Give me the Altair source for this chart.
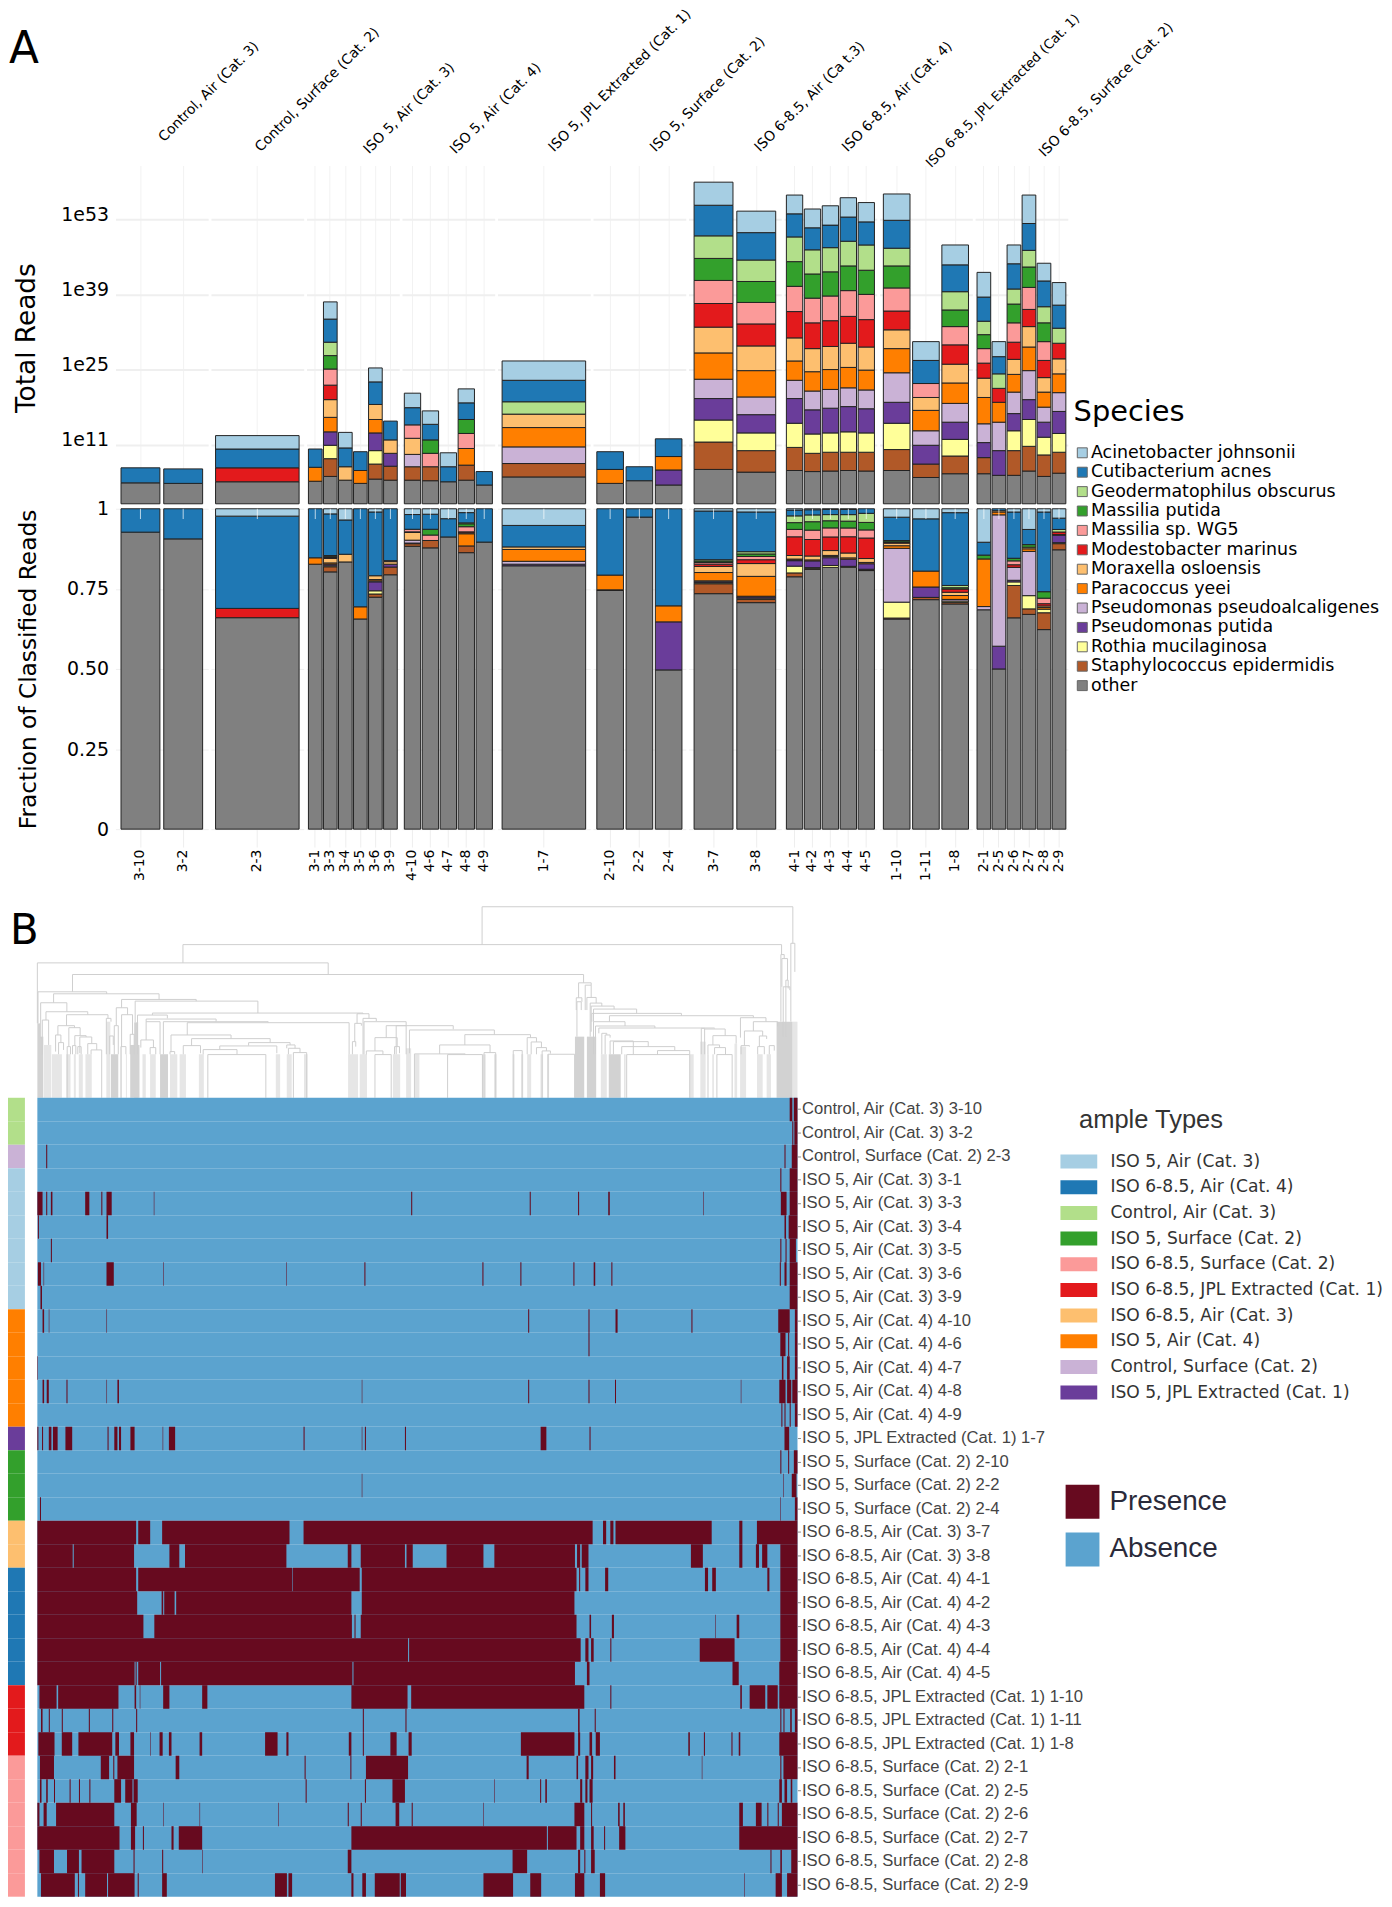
import altair as alt
import pandas as pd

species = ["Acinetobacter johnsonii", "Cutibacterium acnes", "Geodermatophilus obscurus", "Massilia putida",
           "Massilia sp. WG5", "Modestobacter marinus", "Moraxella osloensis", "Paracoccus yeei",
           "Pseudomonas pseudoalcaligenes", "Pseudomonas putida", "Rothia mucilaginosa",
           "Staphylococcus epidermidis", "other"]
species_colors = ["#A6CEE3", "#1F78B4", "#B2DF8A", "#33A02C", "#FB9A99", "#E31A1C", "#FDBF6F", "#FF7F00",
                  "#CAB2D6", "#6A3D9A", "#FFFF99", "#B15928", "#808080"]
codes = ["A", "C", "G", "MP", "MW", "MM", "MO", "PY", "PP", "PU", "R", "S", "O"]

groups = ["Control, Air (Cat. 3)", "Control, Surface (Cat. 2)", "ISO 5, Air (Cat. 3)", "ISO 5, Air (Cat. 4)",
          "ISO 5, JPL Extracted (Cat. 1)", "ISO 5, Surface (Cat. 2)", "ISO 6-8.5, Air (Cat. 3)",
          "ISO 6-8.5, Air (Cat. 4)", "ISO 6-8.5, JPL Extracted (Cat. 1)", "ISO 6-8.5, Surface (Cat. 2)"]
group_header = ["Control, Air (Cat. 3)", "Control, Surface (Cat. 2)", "ISO 5, Air (Cat. 3)", "ISO 5, Air (Cat. 4)",
                "ISO 5, JPL Extracted (Cat. 1)", "ISO 5, Surface (Cat. 2)", "ISO 6-8.5, Air (Ca t.3)",
                "ISO 6-8.5, Air (Cat. 4)", "ISO 6-8.5, JPL Extracted (Cat. 1)", "ISO 6-8.5, Surface (Cat. 2)"]
group_samples = [["3-10", "3-2"], ["2-3"], ["3-1", "3-3", "3-4", "3-5", "3-6", "3-9"],
                 ["4-10", "4-6", "4-7", "4-8", "4-9"], ["1-7"], ["2-10", "2-2", "2-4"], ["3-7", "3-8"],
                 ["4-1", "4-2", "4-3", "4-4", "4-5"], ["1-10", "1-11", "1-8"],
                 ["2-1", "2-5", "2-6", "2-7", "2-8", "2-9"]]

# Decades of reads per species on the stacked log axis
reads = {
    "3-10": dict(O=3.9, C=2.8), "3-2": dict(O=3.8, C=2.7),
    "2-3": dict(O=4.1, MM=2.6, C=3.5, A=2.5),
    "3-1": dict(O=4.2, PY=2.6, C=3.4),
    "3-3": dict(O=5.1, S=3.3, R=2.5, PU=2.5, PY=2.7, MO=3.3, MM=2.7, MW=3.0, MP=2.5, G=2.5, C=4.3, A=3.2),
    "3-4": dict(O=4.4, MO=2.5, C=3.5, A=2.9), "3-5": dict(O=3.8, PY=2.4, C=3.5),
    "3-6": dict(O=4.6, S=2.8, R=2.5, PU=3.3, PY=2.5, MO=2.8, C=4.2, A=2.6),
    "3-9": dict(O=4.4, S=2.6, PU=2.4, MO=2.5, C=3.5),
    "4-10": dict(O=4.4, S=2.5, PP=2.3, MO=3.0, MW=2.5, C=3.2, A=2.7),
    "4-6": dict(O=4.3, S=2.6, MW=2.5, MP=2.5, C=2.9, A=2.5),
    "4-7": dict(O=4.1, C=2.8, A=2.6),
    "4-8": dict(O=4.4, S=2.8, PY=3.1, MW=2.8, MP=2.6, C=3.1, A=2.6),
    "4-9": dict(O=3.5, C=2.5),
    "1-7": dict(O=5.0, S=2.5, PP=3.1, PY=3.6, MO=2.5, G=2.3, C=4.0, A=3.6),
    "2-10": dict(O=3.8, PY=2.6, C=3.3), "2-2": dict(O=4.3, C=2.6),
    "2-4": dict(O=3.5, PU=2.8, PY=2.5, C=3.3),
    "3-7": dict(O=6.4, S=5.1, R=4.1, PU=4.0, PP=3.6, PY=4.9, MO=4.8, MM=4.4, MW=4.3, MP=4.1, G=4.2, C=5.7, A=4.3),
    "3-8": dict(O=5.9, S=4.0, R=3.3, PU=3.4, PP=3.3, PY=4.9, MO=4.6, MM=4.1, MW=4.0, MP=3.9, G=4.0, C=5.1, A=4.0),
    "4-1": dict(O=6.2, S=4.3, R=4.5, PU=4.6, PP=3.4, PY=3.6, MO=4.3, MM=4.9, MW=4.7, MP=4.6, G=4.6, C=4.3, A=3.5),
    "4-2": dict(O=6.0, S=3.4, R=3.6, PU=4.5, PP=3.5, PY=3.6, MO=4.3, MM=4.8, MW=4.6, MP=4.5, G=4.5, C=4.1, A=3.5),
    "4-3": dict(O=6.1, S=3.5, R=3.6, PU=4.6, PP=3.5, PY=3.7, MO=4.3, MM=4.8, MW=4.6, MP=4.5, G=4.5, C=4.2, A=3.6),
    "4-4": dict(O=6.2, S=3.4, R=3.8, PU=4.7, PP=3.5, PY=3.8, MO=4.5, MM=5.0, MW=4.8, MP=4.6, G=4.6, C=4.5, A=3.6),
    "4-5": dict(O=6.1, S=3.5, R=3.6, PU=4.5, PP=3.5, PY=3.7, MO=4.3, MM=5.1, MW=4.7, MP=4.5, G=4.7, C=4.3, A=3.6),
    "1-10": dict(O=6.2, S=3.9, R=4.9, PU=3.9, PP=5.5, PY=4.5, MO=3.5, MM=3.5, MW=4.3, MP=4.1, G=3.3, C=5.2, A=4.9),
    "1-11": dict(O=4.9, S=2.5, PU=3.5, PP=2.7, PY=3.8, MO=2.4, MW=2.6, C=4.3, A=3.5),
    "1-8": dict(O=5.6, S=3.3, R=3.1, PU=3.2, PP=3.5, PY=3.8, MO=3.5, MM=3.6, MW=3.4, MP=3.1, G=3.4, C=5.0, A=3.7),
    "2-1": dict(O=5.6, S=3.0, PU=2.8, PP=3.5, PY=4.9, MO=3.6, MM=2.8, MW=2.7, MP=2.6, G=2.5, C=4.5, A=4.6),
    "2-5": dict(O=5.3, PU=4.6, PP=5.3, PY=3.7, MM=2.6, G=2.7, C=3.2, A=2.8),
    "2-6": dict(O=5.3, S=4.6, R=3.7, PU=3.2, PP=4.0, PY=3.3, MO=2.8, MM=3.2, MW=3.6, MP=3.5, G=2.8, C=4.7, A=3.5),
    "2-7": dict(O=6.1, S=4.6, R=5.0, PU=3.7, PP=5.4, PY=4.4, MO=3.8, MM=3.2, MW=4.1, MP=3.8, G=3.1, C=5.0, A=5.3),
    "2-8": dict(O=5.1, S=4.0, R=3.3, PU=2.8, PP=2.8, PY=2.8, MO=2.7, MM=3.2, MW=3.5, MP=3.5, G=3.0, C=4.8, A=3.3),
    "2-9": dict(O=5.7, S=3.9, R=3.5, PU=4.1, PP=3.5, PY=3.5, MO=2.8, MM=2.9, G=2.8, C=4.3, A=4.2),
}

# Fraction of classified reads
fractions = {
    "3-10": dict(O=.927, C=.073), "3-2": dict(O=.906, C=.094),
    "2-3": dict(O=.66, MM=.029, C=.288, A=.023),
    "3-1": dict(O=.827, PY=.02, C=.153),
    "3-3": dict(O=.803, S=.016, R=.003, PU=.005, PY=.004, MO=.014, MM=.003, MW=.002, MP=.002, G=.002, C=.13, A=.016),
    "3-4": dict(O=.834, MO=.024, C=.107, A=.035), "3-5": dict(O=.656, PY=.038, C=.306),
    "3-6": dict(O=.724, S=.01, R=.01, PU=.028, PP=.003, PY=.004, MO=.012, C=.199, A=.01),
    "3-9": dict(O=.794, S=.024, PU=.009, MW=.003, MO=.008, C=.162),
    "4-10": dict(O=.883, S=.008, PU=.002, PP=.009, MO=.024, MM=.002, MW=.008, C=.046, A=.018),
    "4-6": dict(O=.878, S=.023, MW=.017, MP=.018, C=.047, A=.017),
    "4-7": dict(O=.912, C=.057, A=.031),
    "4-8": dict(O=.863, S=.021, PY=.038, MO=.003, MM=.003, MW=.016, MP=.009, G=.003, C=.032, A=.012),
    "4-9": dict(O=.896, C=.104),
    "1-7": dict(O=.822, PU=.005, PP=.009, PY=.037, MO=.008, C=.067, A=.052),
    "2-10": dict(O=.745, S=.002, PY=.046, C=.207), "2-2": dict(O=.974, C=.026),
    "2-4": dict(O=.497, PU=.15, PY=.05, C=.303),
    "3-7": dict(O=.735, S=.031, R=.003, PU=.003, PP=.003, PY=.026, MO=.019, MM=.007, MW=.005, MP=.005, G=.004, C=.152, A=.007),
    "3-8": dict(O=.707, S=.01, R=.004, PU=.004, PP=.002, PY=.062, MO=.04, MM=.012, MW=.01, MP=.008, G=.007, C=.124, A=.01),
    "4-1": dict(O=.783, S=.012, R=.021, PU=.017, PP=.002, PY=.003, MO=.011, MM=.058, MW=.023, MP=.021, G=.021, C=.018, A=.004),
    "4-2": dict(O=.803, S=.002, R=.003, PU=.021, PY=.003, MO=.012, MM=.051, MW=.029, MP=.026, G=.021, C=.016, A=.003),
    "4-3": dict(O=.808, R=.006, PU=.024, PP=.004, PY=.003, MO=.015, MM=.042, MW=.028, MP=.022, G=.019, C=.016, A=.002),
    "4-4": dict(O=.805, R=.003, PU=.022, PY=.004, MO=.015, MM=.05, MW=.027, MP=.021, G=.02, C=.016, A=.002),
    "4-5": dict(O=.795, S=.002, R=.002, PU=.017, PY=.004, MO=.012, MM=.063, MW=.025, MP=.023, G=.028, C=.014),
    "1-10": dict(O=.648, S=.003, R=.049, PP=.166, PY=.008, MO=.008, MM=.002, MW=.002, MP=.004, C=.072, A=.026),
    "1-11": dict(O=.707, PU=.032, S=.007, PY=.049, C=.161, A=.031),
    "1-8": dict(O=.693, S=.005, R=.004, PP=.005, PY=.012, MO=.01, MM=.01, MP=.004, G=.007, C=.224, A=.012),
    "2-1": dict(O=.682, PP=.01, PY=.148, MP=.012, C=.04, A=.104),
    "2-5": dict(O=.5, PU=.071, PP=.41, PY=.009, MO=.004, C=.006),
    "2-6": dict(O=.653, S=.1, R=.011, PU=.005, PP=.04, MM=.008, MW=.012, MP=.008, C=.143, A=.01),
    "2-7": dict(O=.665, S=.017, R=.041, PP=.137, PY=.008, MO=.005, MP=.008, C=.047, A=.064),
    "2-8": dict(O=.616, S=.052, R=.011, PY=.005, MO=.005, MM=.007, MW=.017, MP=.02, C=.246, A=.01),
    "2-9": dict(O=.865, S=.019, R=.003, PU=.023, PP=.002, G=.008, MM=.008, C=.035, A=.029),
}

row_labels = ["Control, Air (Cat. 3) 3-10", "Control, Air (Cat. 3) 3-2", "Control, Surface (Cat. 2) 2-3",
              "ISO 5, Air (Cat. 3) 3-1", "ISO 5, Air (Cat. 3) 3-3", "ISO 5, Air (Cat. 3) 3-4", "ISO 5, Air (Cat. 3) 3-5",
              "ISO 5, Air (Cat. 3) 3-6", "ISO 5, Air (Cat. 3) 3-9", "ISO 5, Air (Cat. 4) 4-10", "ISO 5, Air (Cat. 4) 4-6",
              "ISO 5, Air (Cat. 4) 4-7", "ISO 5, Air (Cat. 4) 4-8", "ISO 5, Air (Cat. 4) 4-9",
              "ISO 5, JPL Extracted (Cat. 1) 1-7", "ISO 5, Surface (Cat. 2) 2-10", "ISO 5, Surface (Cat. 2) 2-2",
              "ISO 5, Surface (Cat. 2) 2-4", "ISO 6-8.5, Air (Cat. 3) 3-7", "ISO 6-8.5, Air (Cat. 3) 3-8",
              "ISO 6-8.5, Air (Cat. 4) 4-1", "ISO 6-8.5, Air (Cat. 4) 4-2", "ISO 6-8.5, Air (Cat. 4) 4-3",
              "ISO 6-8.5, Air (Cat. 4) 4-4", "ISO 6-8.5, Air (Cat. 4) 4-5", "ISO 6-8.5, JPL Extracted (Cat. 1) 1-10",
              "ISO 6-8.5, JPL Extracted (Cat. 1) 1-11", "ISO 6-8.5, JPL Extracted (Cat. 1) 1-8",
              "ISO 6-8.5, Surface (Cat. 2) 2-1", "ISO 6-8.5, Surface (Cat. 2) 2-5", "ISO 6-8.5, Surface (Cat. 2) 2-6",
              "ISO 6-8.5, Surface (Cat. 2) 2-7", "ISO 6-8.5, Surface (Cat. 2) 2-8", "ISO 6-8.5, Surface (Cat. 2) 2-9"]
row_types = [groups[0]] * 2 + [groups[1]] + [groups[2]] * 6 + [groups[3]] * 5 + [groups[4]] + [groups[5]] * 3 + \
            [groups[6]] * 2 + [groups[7]] * 5 + [groups[8]] * 3 + [groups[9]] * 6
type_order = ["ISO 5, Air (Cat. 3)", "ISO 6-8.5, Air (Cat. 4)", "Control, Air (Cat. 3)", "ISO 5, Surface (Cat. 2)",
              "ISO 6-8.5, Surface (Cat. 2)", "ISO 6-8.5, JPL Extracted (Cat. 1)", "ISO 6-8.5, Air (Cat. 3)",
              "ISO 5, Air (Cat. 4)", "Control, Surface (Cat. 2)", "ISO 5, JPL Extracted (Cat. 1)"]
type_colors = ["#A6CEE3", "#1F78B4", "#B2DF8A", "#33A02C", "#FB9A99", "#E31A1C", "#FDBF6F", "#FF7F00", "#CAB2D6", "#6A3D9A"]

# Presence runs per sample over the ordered taxa columns (0..1462)
presence = [
    [(1447, 1452), (1455, 1462)],
    [(1452, 1454), (1456, 1462)],
    [(17, 19), (1437, 1439), (1451, 1462)],
    [(1429, 1431), (1447, 1462)],
    [(0, 10), (17, 19), (26, 29), (92, 100), (123, 125), (133, 143), (224, 225), (719, 721), (947, 949), (1040, 1042), (1098, 1101), (1281, 1282), (1430, 1441), (1447, 1462)],
    [(1, 3), (133, 136), (1437, 1440), (1445, 1462)],
    [(26, 28), (1429, 1431), (1439, 1441), (1447, 1459)],
    [(1, 7), (12, 13), (133, 147), (242, 243), (479, 480), (629, 631), (856, 858), (929, 931), (1031, 1033), (1070, 1073), (1104, 1106), (1428, 1430), (1437, 1441), (1447, 1462)],
    [(6, 9), (1447, 1462)],
    [(10, 13), (22, 23), (133, 134), (944, 946), (1060, 1062), (1112, 1116), (1258, 1260), (1425, 1447), (1457, 1462)],
    [(1060, 1062), (1429, 1439), (1444, 1446), (1457, 1462)],
    [(0, 1), (1432, 1435), (1442, 1447), (1457, 1462)],
    [(10, 13), (18, 22), (56, 58), (133, 134), (154, 157), (624, 625), (944, 946), (1060, 1062), (1111, 1113), (1353, 1354), (1427, 1439), (1442, 1450), (1452, 1462)],
    [(1431, 1433), (1437, 1439), (1447, 1449), (1457, 1462)],
    [(0, 2), (9, 11), (22, 27), (30, 39), (54, 67), (135, 137), (148, 154), (157, 161), (179, 187), (241, 242), (253, 265), (512, 514), (624, 625), (630, 632), (707, 709), (968, 979), (1062, 1064), (1437, 1446)],
    [(1429, 1431), (1444, 1446), (1455, 1462)],
    [(624, 625), (1435, 1436), (1451, 1460)],
    [(5, 7), (1429, 1430), (1457, 1462)],
    [(0, 190), (194, 217), (240, 485), (512, 1068), (1088, 1094), (1102, 1108), (1112, 1297), (1350, 1356), (1384, 1462)],
    [(0, 68), (70, 186), (254, 273), (284, 479), (597, 604), (622, 707), (710, 722), (787, 858), (879, 1034), (1038, 1044), (1047, 1060), (1257, 1280), (1350, 1356), (1382, 1388), (1394, 1404), (1429, 1462)],
    [(0, 190), (194, 490), (491, 620), (624, 1037), (1042, 1044), (1054, 1060), (1092, 1098), (1284, 1290), (1298, 1305), (1404, 1408), (1429, 1462)],
    [(0, 192), (239, 242), (244, 264), (267, 604), (624, 1033), (1429, 1462)],
    [(0, 204), (225, 605), (610, 612), (622, 1037), (1062, 1065), (1105, 1109), (1304, 1305), (1345, 1350), (1429, 1462)],
    [(0, 713), (715, 1045), (1054, 1060), (1065, 1070), (1102, 1104), (1274, 1341), (1429, 1462)],
    [(0, 187), (189, 191), (194, 236), (238, 606), (608, 1034), (1057, 1062), (1337, 1349), (1427, 1462)],
    [(4, 37), (40, 156), (187, 190), (197, 198), (242, 254), (317, 327), (604, 712), (719, 1052), (1102, 1104), (1352, 1355), (1370, 1400), (1404, 1424), (1427, 1462)],
    [(7, 10), (22, 24), (47, 49), (99, 101), (144, 146), (190, 192), (626, 628), (708, 710), (1040, 1043), (1072, 1074), (1429, 1431), (1435, 1437), (1448, 1451), (1457, 1462)],
    [(2, 33), (47, 67), (79, 144), (150, 157), (179, 186), (217, 218), (235, 241), (253, 258), (312, 317), (438, 462), (479, 483), (599, 604), (626, 628), (679, 691), (714, 720), (930, 1033), (1040, 1044), (1062, 1067), (1074, 1082), (1252, 1255), (1282, 1284), (1335, 1337), (1349, 1352), (1427, 1462)],
    [(5, 32), (122, 138), (146, 148), (154, 186), (266, 273), (514, 516), (602, 604), (632, 713), (941, 945), (1037, 1040), (1054, 1060), (1065, 1069), (1109, 1112), (1278, 1279), (1429, 1431), (1435, 1462)],
    [(5, 8), (17, 20), (32, 34), (62, 64), (80, 82), (100, 102), (148, 161), (169, 183), (185, 193), (516, 518), (630, 632), (683, 707), (879, 880), (967, 969), (977, 980), (1044, 1048), (1054, 1058), (1062, 1068), (1427, 1432), (1437, 1442), (1449, 1452)],
    [(0, 4), (12, 18), (36, 148), (180, 191), (242, 243), (312, 313), (463, 464), (597, 599), (622, 624), (689, 696), (720, 722), (858, 859), (1033, 1052), (1065, 1067), (1117, 1120), (1127, 1130), (1350, 1357), (1382, 1393), (1404, 1406), (1424, 1426), (1432, 1462)],
    [(0, 158), (180, 188), (203, 205), (258, 262), (272, 317), (604, 980), (982, 1037), (1044, 1052), (1065, 1070), (1090, 1092), (1119, 1131), (1350, 1462)],
    [(4, 32), (57, 80), (85, 148), (185, 187), (240, 242), (317, 318), (597, 604), (914, 942), (1040, 1044), (1052, 1054), (1065, 1072), (1410, 1412), (1429, 1432), (1450, 1462)],
    [(7, 72), (78, 80), (92, 134), (136, 187), (193, 195), (240, 249), (457, 480), (483, 490), (604, 608), (625, 632), (649, 697), (699, 709), (858, 915), (948, 969), (1034, 1052), (1082, 1092), (1360, 1361), (1420, 1432), (1442, 1462)],
]

# Dendrogram merges: left, right, merge depth, left child depth, right child depth
links_main = [(1359, 2296, -96, 18, 14), (457, 2262, 18, 73, 48), (18, 895, 73, 255, 108), (124, 1665, 108, 160, 133)]
links_left = [
    (20, 227, 160, 255, 166), (67, 385, 166, 193, 183), (28, 107, 193, 300, 220), (44, 170, 220, 245, 229),
    (33, 52, 245, 348, 320), (106, 231, 229, 262, 240), (80, 130, 262, 290, 268), (73, 89, 290, 340, 313),
    (82, 97, 313, 348, 335), (113, 147, 268, 325, 292), (108, 118, 325, 479, 348), (131, 165, 292, 322, 296),
    (124, 134, 322, 348, 348), (146, 182, 296, 345, 316), (140, 150, 325, 348, 348), (170, 197, 316, 348, 335),
    (180, 212, 335, 348, 479), (226, 240, 240, 348, 250), (236, 247, 293, 348, 320), (272, 497, 183, 208, 188),
    (256, 290, 208, 262, 229), (250, 262, 262, 348, 348), (272, 305, 229, 325, 288), (270, 285, 325, 479, 348),
    (298, 310, 288, 348, 348), (313, 683, 188, 252, 224), (365, 1000, 224, 230, 226), (320, 410, 230, 348, 240),
    (346, 557, 242, 250, 250), (346, 388, 250, 305, 348), (330, 368, 305, 328, 328), (358, 375, 328, 348, 348),
    (398, 714, 250, 348, 253), (470, 958, 253, 290, 348), (421, 602, 290, 342, 301), (483, 720, 301, 322, 313),
    (458, 510, 322, 348, 345), (655, 780, 313, 322, 320), (568, 740, 323, 333, 345), (518, 620, 334, 348, 348),
    (532, 707, 349, 479, 479), (770, 795, 320, 330, 330), (775, 810, 330, 348, 343), (790, 830, 343, 479, 479),
    (968, 978, 310, 348, 325), (982, 1018, 226, 255, 240), (975, 995, 255, 310, 262), (1000, 1040, 240, 348, 248),
    (1003, 1130, 250, 348, 262), (1070, 1130, 262, 298, 348), (1036, 1103, 298, 338, 325), (1010, 1060, 338, 349, 349),
    (1036, 1085, 349, 479, 479), (1095, 1110, 325, 348, 345), (418, 432, 340, 348, 348),
]
links_right = [
    (495, 533, 133, 178, 140), (488, 505, 178, 215, 190), (490, 503, 190, 295, 215), (520, 548, 177, 215, 194),
    (515, 533, 140, 215, 177), (530, 565, 194, 295, 203), (533, 602, 203, 280, 212), (540, 670, 212, 250, 225),
    (535, 805, 225, 250, 232), (588, 1022, 232, 250, 238), (540, 635, 250, 348, 263), (546, 725, 263, 348, 269),
    (556, 905, 269, 285, 270), (565, 580, 285, 348, 290), (575, 590, 290, 348, 298), (590, 660, 308, 348, 348),
    (600, 705, 310, 348, 325), (625, 785, 325, 348, 337), (733, 830, 337, 349, 349), (640, 830, 349, 479, 479),
    (865, 875, 270, 348, 272), (875, 937, 272, 348, 292), (900, 970, 292, 320, 316), (885, 920, 320, 348, 328),
    (905, 938, 328, 348, 349), (912, 958, 349, 479, 479), (983, 1060, 238, 298, 250), (1022, 1095, 250, 278, 265),
    (995, 1050, 278, 322, 293), (1040, 1062, 293, 325, 302), (985, 1010, 322, 348, 325), (1035, 1055, 325, 348, 348),
    (1070, 1085, 322, 348, 337), (1105, 1115, 48, 250, 60), (1108, 1125, 60, 145, 125), (1112, 1132, 145, 295, 155),
    (1120, 1127, 125, 295, 150), (1135, 1147, 14, 250, 100), (-55, 117, 262, 348, 273), (-15, 241, 275, 345, 289),
    (152, 350, 289, 320, 298), (76, 228, 320, 347, 343), (0, 153, 347, 479, 349), (100, 205, 349, 479, 479),
    (210, 245, 343, 479, 479), (298, 325, 337, 479, 479), (340, 368, 298, 348, 311), (352, 383, 311, 348, 328),
    (368, 398, 328, 348, 338), (385, 410, 338, 479, 346), (403, 483, 348, 479, 479),
]
# Dense leaf stems: left, right, stem top depth
leaves_dark = [(18, 26, 255), (26, 36, 295), (240, 262, 348), (298, 326, 320), (310, 322, 252), (388, 412, 348),
               (1639, 1667, 295), (1675, 1703, 295), (1741, 1777, 348), (2247, 2295, 250)]
leaves_light = [(38, 60, 320), (62, 92, 348), (105, 118, 348), (128, 134, 348), (143, 155, 348), (163, 182, 348),
                (226, 238, 250), (270, 273, 325), (285, 288, 348), (335, 345, 348), (358, 375, 348), (418, 440, 348),
                (447, 466, 348), (505, 520, 348), (737, 750, 348), (770, 785, 348), (822, 833, 348), (955, 985, 348),
                (990, 1012, 348), (1090, 1112, 348), (1130, 1145, 330), (1155, 1170, 348), (1360, 1370, 348),
                (1395, 1403, 348), (1451, 1457, 348), (1477, 1483, 348), (1495, 1507, 348), (1535, 1543, 348),
                (1555, 1561, 348), (1717, 1735, 348), (1787, 1792, 348), (1985, 1997, 348), (2017, 2033, 310),
                (2037, 2043, 348), (2053, 2058, 348), (2120, 2128, 316), (2137, 2155, 325), (2188, 2205, 348),
                (2217, 2230, 348), (2295, 2310, 250)]

FONT = "DejaVu Sans"
PW, PS = 93.2, 2
H_TOP, H_BOT = 340, 322
label_dx = [46, 47, 60, 51, 54, 60, 69, 61, 49, 67]
label_dy = [-26, -16, -14, -14, -16, -16, -16, -16, 0, -11]
label_size = [14, 14, 14, 14, 14, 14, 14, 14, 13.3, 14]


def long_table(table, samples):
    rows = []
    for s in samples:
        for k, c in enumerate(codes[::-1]):
            if c in table[s]:
                rows.append(dict(sample=s, species=species[codes.index(c)], v=table[s][c], ord=k))
    return pd.DataFrame(rows)


def x_enc(samples, axis):
    po = 0.05 if len(samples) == 1 else 0.13
    return alt.X("sample:N", sort=samples, title=None, axis=axis,
                 scale=alt.Scale(domain=samples, paddingInner=0.09, paddingOuter=po))


def panel_top(i):
    samples = group_samples[i]
    yaxis = alt.Axis(values=[11, 25, 39, 53], labelExpr="'1e' + datum.value", labelFontSize=19, labelFont=FONT,
                     labelColor="black", ticks=False, domain=False, labels=i == 0, labelPadding=7, labelOffset=-5,
                     gridColor="#efefef", gridWidth=2, title="Total Reads" if i == 0 else None,
                     titleFont=FONT, titleFontSize=26.5, titleFontWeight="normal", titleColor="black",
                     titleX=-75, titleY=173)
    bars = alt.Chart(long_table(reads, samples)).mark_bar(stroke="#222222", strokeWidth=1).encode(
        x=x_enc(samples, alt.Axis(labels=False, ticks=False, domain=False, grid=True, gridColor="#f2f2f2")),
        y=alt.Y("v:Q", stack="zero", scale=alt.Scale(domain=[0, 63]), axis=yaxis),
        color=alt.Color("species:N", scale=alt.Scale(domain=species, range=species_colors), legend=None),
        order=alt.Order("ord:Q", sort="ascending"))
    head = alt.Chart(pd.DataFrame({"label": [group_header[i]]})).mark_text(
        angle=315, align="left", baseline="middle", fontSize=label_size[i], font=FONT, color="black").encode(
        x=alt.value(label_dx[i]), y=alt.value(label_dy[i]), text="label:N")
    return alt.layer(bars, head).properties(width=PW, height=H_TOP)


def panel_bot(i):
    samples = group_samples[i]
    yaxis = alt.Axis(values=[0, .25, .5, .75, 1], format=".2f",
                     labelExpr="datum.value == 1 ? '1' : datum.value == 0 ? '0' : format(datum.value, '.2f')",
                     labelFontSize=19, labelFont=FONT, labelColor="black", ticks=False, domain=False,
                     labels=i == 0, labelPadding=7, gridColor="#efefef", gridWidth=1,
                     title="Fraction of Classified Reads" if i == 0 else None, titleFont=FONT, titleFontSize=23.4,
                     titleFontWeight="normal", titleColor="black", titleX=-75, titleY=161)
    xaxis = alt.Axis(labelAngle=270, labelAlign="right", labelBaseline="middle", labelFontSize=14, labelFont=FONT,
                     labelColor="black", tickColor="#eeeeee", tickSize=18, labelPadding=2, domain=False, grid=True,
                     gridColor="#f2f2f2")
    legend = None
    if i == 9:
        legend = alt.Legend(title="Species", orient="none", legendX=99, legendY=-111.5, titleFont=FONT, titleFontSize=29,
                            titleFontWeight="normal", titleColor="black", titlePadding=17.5, labelFont=FONT,
                            labelFontSize=17.5, labelColor="black", symbolType="square", symbolSize=100,
                            symbolStrokeColor="#666666", symbolStrokeWidth=1, symbolOpacity=1, rowPadding=0.5,
                            labelOffset=0, labelLimit=400, padding=0)
    bars = alt.Chart(long_table(fractions, samples)).mark_bar(stroke="#222222", strokeWidth=1).encode(
        x=x_enc(samples, xaxis),
        y=alt.Y("v:Q", stack="normalize", scale=alt.Scale(domain=[0, 1]), axis=yaxis),
        color=alt.Color("species:N", scale=alt.Scale(domain=species, range=species_colors), legend=legend),
        order=alt.Order("ord:Q", sort="ascending"))
    marks = pd.DataFrame({"sample": samples, "y": [1.0] * len(samples), "y2": [0.968] * len(samples)})
    glint = alt.Chart(marks).mark_rule(color="#ffffff", opacity=0.7, strokeWidth=1).encode(
        x=x_enc(samples, xaxis), y=alt.Y("y:Q", axis=yaxis), y2="y2:Q")
    return alt.layer(bars, glint).properties(width=PW, height=H_BOT)


def letter(text, w, h, x, y, size=44):
    return alt.Chart(pd.DataFrame({"t": [text]})).mark_text(
        align="left", baseline="alphabetic", fontSize=size, font=FONT, color="black").encode(
        x=alt.value(x), y=alt.value(y), text="t:N").properties(width=w, height=h)


cells = [letter("A", 106, H_TOP, 1, -103)] + [panel_top(i) for i in range(10)] + \
        [letter(" ", 106, H_BOT, 1, 0)] + [panel_bot(i) for i in range(10)]
grid_a = alt.concat(*cells, columns=11, spacing=alt.RowColnumber(row=5, column=PS), bounds="flush").resolve_scale(color="independent")

# Dendrogram
all_links = links_main + links_left + [(a + 1155, b + 1155, c, d, e) for a, b, c, d, e in links_right]
h_df = pd.DataFrame([dict(x=a, x2=b, y=c) for a, b, c, d, e in all_links])
v_df = pd.DataFrame([dict(x=a, y=c, y2=d) for a, b, c, d, e in all_links] +
                    [dict(x=b, y=c, y2=e) for a, b, c, d, e in all_links])
xd = alt.X("x:Q", scale=alt.Scale(domain=[18, 2310], nice=False, zero=False), axis=None)
yd = alt.Y("y:Q", scale=alt.Scale(domain=[479, -96], nice=False, zero=False), axis=None)
stem_dark = alt.Chart(pd.DataFrame(leaves_dark, columns=["x", "x2", "y"]).assign(y2=479)).mark_rect(color="#d2d2d2").encode(
    x=xd, x2="x2:Q", y=yd, y2="y2:Q")
stem_light = alt.Chart(pd.DataFrame(leaves_light, columns=["x", "x2", "y"]).assign(y2=479)).mark_rect(color="#e6e6e6").encode(
    x=xd, x2="x2:Q", y=yd, y2="y2:Q")
dend_h = alt.Chart(h_df).mark_rule(color="#cfcfcf", strokeWidth=1).encode(x=xd, x2="x2:Q", y=yd)
dend_v = alt.Chart(v_df).mark_rule(color="#cfcfcf", strokeWidth=1).encode(x=xd, y=yd, y2="y2:Q")
dendro = alt.layer(stem_light, stem_dark, dend_h, dend_v).properties(width=764, height=192)

# Heatmap
heat_rows = []
for label in row_labels:
    heat_rows.append(dict(row=label, a=0, b=1462, state="Absence", rank=0))
for label, runs in zip(row_labels, presence):
    for a, b in runs:
        heat_rows.append(dict(row=label, a=a, b=b, state="Presence", rank=1))
heat = alt.Chart(pd.DataFrame(heat_rows)).mark_rect().encode(
    x=alt.X("a:Q", scale=alt.Scale(domain=[0, 1462], nice=False, zero=False), axis=None),
    x2="b:Q",
    y=alt.Y("row:N", sort=row_labels, scale=alt.Scale(domain=row_labels, paddingInner=0, paddingOuter=0), title=None,
            axis=alt.Axis(orient="right", labelFont="Liberation Sans", labelFontSize=16.7, labelColor="#444444",
                          tickColor="#888888", tickSize=3, labelPadding=1, domain=False, grid=False, labelLimit=400)),
    color=alt.Color("state:N", scale=alt.Scale(domain=["Presence", "Absence"], range=["#670A1F", "#5BA3CF"]),
                    legend=alt.Legend(title=None, orient="none", legendX=1033.5, legendY=389, symbolType="square",
                                      symbolSize=1156, symbolOpacity=1, symbolStrokeWidth=0, rowPadding=14,
                                      labelFont="Liberation Sans", labelFontSize=28, labelColor="#2a2a3a",
                                      labelOffset=10, padding=0)),
    order=alt.Order("rank:Q")
).properties(width=764, height=803)

strip = alt.Chart(pd.DataFrame({"row": row_labels, "type": row_types})).mark_rect().encode(
    y=alt.Y("row:N", sort=row_labels, scale=alt.Scale(domain=row_labels, paddingInner=0, paddingOuter=0), axis=None),
    color=alt.Color("type:N", scale=alt.Scale(domain=type_order, range=type_colors),
                    legend=alt.Legend(title="ample Types", orient="none", legendX=1076.5, legendY=10,
                                      titleFont="Liberation Sans", titleFontSize=25.6, titleFontWeight="normal",
                                      titleColor="#333333", titlePadding=19,
                                      symbolType="M-3.05,-0.76H0.95V0.76H-3.05Z", symbolSize=342, symbolOpacity=1,
                                      symbolStrokeWidth=0, rowPadding=7.8, labelFont=FONT, labelFontSize=17.2,
                                      labelColor="#333333", labelOffset=12.5, labelLimit=400, padding=0))
).properties(width=17, height=803)

grid_b = alt.concat(letter("B", 17, 192, 2, 37, 42), dendro, strip, heat, columns=2,
                    spacing=alt.RowColnumber(row=0, column=12.5), bounds="flush").resolve_scale(color="independent")

chart = alt.vconcat(grid_a, grid_b, spacing=25).resolve_scale(color="independent").properties(
    padding={"top": -6.5, "left": 0, "right": 0, "bottom": 0}
).configure_view(stroke=None).configure_axis(grid=True)

chart.save("out.html", embed_options={"renderer": "svg", "actions": False})
